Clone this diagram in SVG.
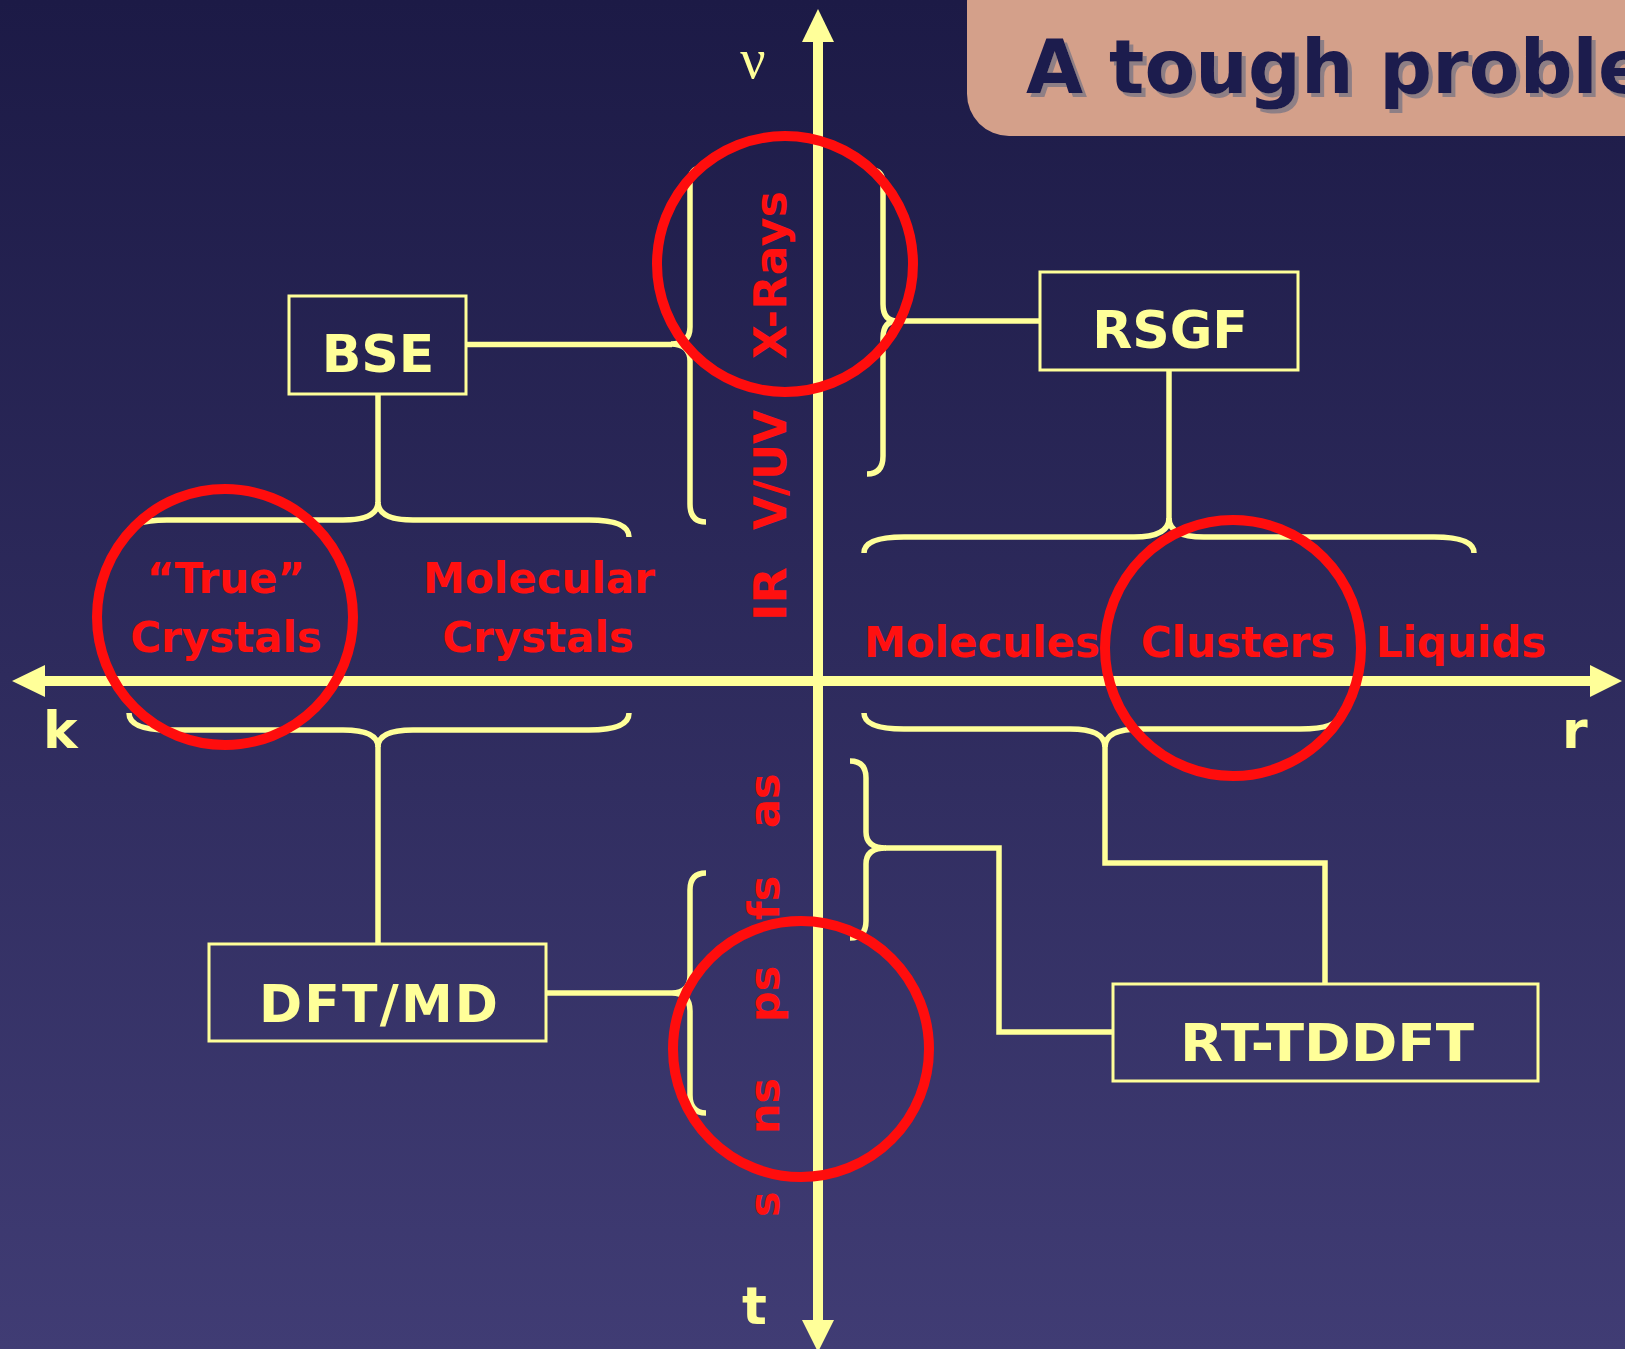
<svg xmlns="http://www.w3.org/2000/svg" width="1625" height="1349" viewBox="0 0 1625 1349">
  <defs>
    <linearGradient id="bg" x1="0" y1="0" x2="0" y2="1">
      <stop offset="0" stop-color="#1c1a46"/>
      <stop offset="1" stop-color="#403c74"/>
    </linearGradient>
    <filter id="titleShadow" x="-5%" y="-20%" width="110%" height="140%">
      <feDropShadow dx="4" dy="4" stdDeviation="0.4" flood-color="#8e7f85" flood-opacity="1"/>
    </filter>
    <style>
      .axis { stroke: #ffff99; stroke-width: 10; fill: none; }
      .head { fill: #ffff99; }
      .wire { stroke: #ffff99; stroke-width: 5.5; fill: none; stroke-linejoin: miter; }
      .brace { stroke: #ffff99; stroke-width: 5.5; fill: none; stroke-linecap: butt; }
      .box { stroke: #ffff99; stroke-width: 3; fill: none; }
      .boxlabel { font-family: "DejaVu Sans", Verdana, sans-serif; font-weight: bold; font-size: 52px; fill: #ffff99; text-anchor: middle; }
      .axlabel { font-family: "DejaVu Sans", Verdana, sans-serif; font-weight: bold; font-size: 52px; fill: #ffff99; }
      .cat { font-family: "DejaVu Sans", Verdana, sans-serif; font-weight: bold; font-size: 42px; fill: #ff1010; text-anchor: middle; }
      .scale { font-family: "DejaVu Sans", Verdana, sans-serif; font-weight: bold; font-size: 43px; fill: #ff1010; }
      .band { font-size: 44px; }
      .ring { stroke: #ff0d0d; stroke-width: 10; fill: none; }
      .title { font-family: "DejaVu Sans", Verdana, sans-serif; font-weight: bold; font-size: 74px; fill: #1c1a4e; }
    </style>
  </defs>

  <!-- background -->
  <rect x="0" y="0" width="1625" height="1349" fill="url(#bg)"/>

  <!-- title banner -->
  <g id="title">
    <rect x="967" y="-40" width="720" height="176" rx="42" ry="42" fill="#d4a08a"/>
    <text class="title" x="1026" y="93" filter="url(#titleShadow)">A tough problem</text>
  </g>

  <!-- axes -->
  <g id="axes">
    <line class="axis" x1="818" y1="40" x2="818" y2="1322"/>
    <polygon class="head" points="818,9 802,42 834,42"/>
    <polygon class="head" points="818,1352 802,1320 834,1320"/>
    <line class="axis" x1="43" y1="681" x2="1592" y2="681"/>
    <polygon class="head" points="12,681 45,665 45,697"/>
    <polygon class="head" points="1622,681 1590,665 1590,697"/>
    <text x="753" y="78" font-family="Liberation Serif, serif" font-size="56" fill="#ffff99" text-anchor="middle">ν</text>
    <text class="axlabel" x="43" y="748">k</text>
    <text class="axlabel" x="1562" y="748">r</text>
    <text class="axlabel" x="742" y="1324">t</text>
  </g>

  <!-- connectors: braces and wires -->
  <g id="connectors">
    <!-- spectral range brace, left of the frequency axis -->
    <path class="brace" d="M702,168 Q690,168 690,182 L690,327 Q690,344 671,344 Q690,344 690,361 L690,504 Q690,522 706,522"/>
    <!-- spectral range brace, right of the frequency axis -->
    <path class="brace" d="M871,170 Q883,170 883,184 L883,304 Q883,321 897,321 Q883,321 883,338 L883,456 Q883,474 867,474"/>
    <!-- crystals, above the axis -->
    <path class="brace" d="M127,537 Q127,520 167,520 L343,520 Q378,520 378,502 Q378,520 413,520 L589,520 Q629,520 629,537"/>
    <!-- crystals, below the axis -->
    <path class="brace" d="M129,713 Q129,730 169,730 L343,730 Q378,730 378,747 Q378,730 413,730 L589,730 Q629,730 629,713"/>
    <!-- finite systems, above the axis -->
    <path class="brace" d="M864,553 Q864,537 904,537 L1134,537 Q1169,537 1169,518 Q1169,537 1204,537 L1434,537 Q1474,537 1474,553"/>
    <!-- finite systems, below the axis -->
    <path class="brace" d="M864,713 Q864,729 904,729 L1070,729 Q1105,729 1105,747 Q1105,729 1140,729 L1300,729 Q1340,729 1340,713"/>
    <!-- short time scales -->
    <path class="brace" d="M850,761 Q866,761 866,778 L866,832 Q866,848 886,848 Q866,848 866,864 L866,921 Q866,938 850,938"/>
    <!-- long time scales -->
    <path class="brace" d="M706,873 Q690,873 690,890 L690,975 Q690,993 672,993 Q690,993 690,1011 L690,1095 Q690,1113 706,1113"/>

    <path class="wire" d="M466,344.5 H672"/>
    <path class="wire" d="M378,394 V503"/>
    <path class="wire" d="M897,321 H1040"/>
    <path class="wire" d="M1169,370 V519"/>
    <path class="wire" d="M378,746 V944"/>
    <path class="wire" d="M546,993 H672"/>
    <path class="wire" d="M1105,746 V863 H1325 V984"/>
    <path class="wire" d="M885,848 H999 V1032 H1113"/>
  </g>

  <!-- method boxes -->
  <g id="bse">
    <rect class="box" x="289" y="296" width="177" height="98"/>
    <text class="boxlabel" x="378" y="372">BSE</text>
  </g>
  <g id="rsgf">
    <rect class="box" x="1040" y="272" width="258" height="98"/>
    <text class="boxlabel" x="1170" y="348">RSGF</text>
  </g>
  <g id="dftmd">
    <rect class="box" x="209" y="944" width="337" height="97"/>
    <text class="boxlabel" x="378.5" y="1022" textLength="239" lengthAdjust="spacing">DFT/MD</text>
  </g>
  <g id="rttddft">
    <rect class="box" x="1113" y="984" width="425" height="97"/>
    <text class="boxlabel" x="1327" y="1061" font-size="53" textLength="294" lengthAdjust="spacingAndGlyphs">RT-TDDFT</text>
  </g>

  <!-- system categories along r / k -->
  <g id="categories">
    <text class="cat" x="226" y="593">“True”</text>
    <text class="cat" x="226" y="652">Crystals</text>
    <text class="cat" x="539" y="593">Molecular</text>
    <text class="cat" x="538" y="652">Crystals</text>
    <text class="cat" x="982" y="657">Molecules</text>
    <text class="cat" x="1238" y="657">Clusters</text>
    <text class="cat" x="1461" y="657">Liquids</text>
  </g>

  <!-- frequency and time scales along the vertical axis -->
  <g id="scales">
    <text class="scale band" x="786" y="621" transform="rotate(-90 786 621)" textLength="54" lengthAdjust="spacingAndGlyphs">IR</text>
    <text class="scale band" x="786" y="530" transform="rotate(-90 786 530)" textLength="120" lengthAdjust="spacing">V/UV</text>
    <text class="scale band" x="786" y="359" transform="rotate(-90 786 359)" textLength="168" lengthAdjust="spacing">X-Rays</text>
    <text class="scale" x="779" y="828" transform="rotate(-90 779 828)">as</text>
    <text class="scale" x="779" y="920" transform="rotate(-90 779 920)">fs</text>
    <text class="scale" x="779" y="1022" transform="rotate(-90 779 1022)">ps</text>
    <text class="scale" x="779" y="1134" transform="rotate(-90 779 1134)">ns</text>
    <text class="scale" x="779" y="1217" transform="rotate(-90 779 1217)">s</text>
  </g>

  <!-- highlight rings -->
  <g id="rings">
    <circle class="ring" cx="785" cy="264" r="128"/>
    <circle class="ring" cx="225" cy="617" r="128"/>
    <circle class="ring" cx="1233" cy="648" r="128"/>
    <circle class="ring" cx="801" cy="1049" r="128"/>
  </g>
</svg>
